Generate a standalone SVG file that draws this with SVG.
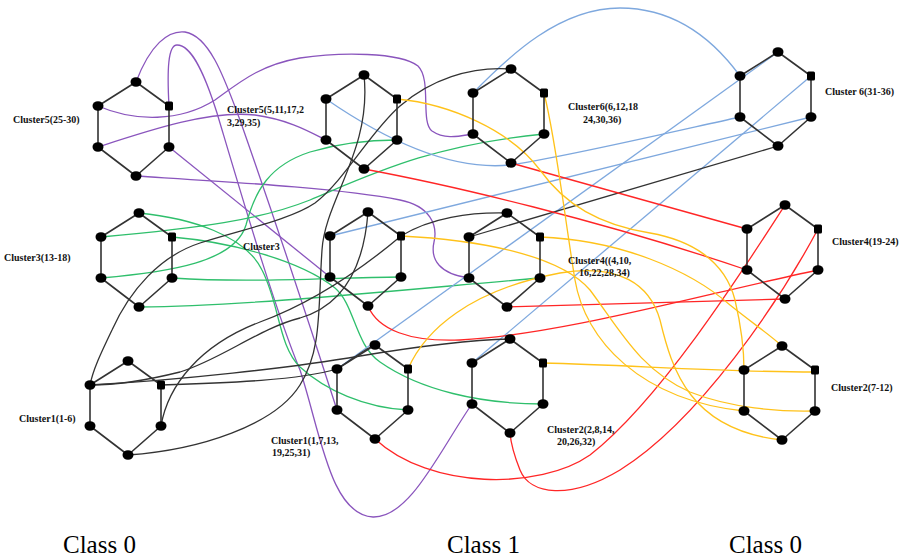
<svg xmlns="http://www.w3.org/2000/svg" xmlns:xlink="http://www.w3.org/1999/xlink" width="908" height="559" viewBox="0 0 908 559">
<style>
.lbl{font-family:"Liberation Serif","Times New Roman",serif;font-size:10px;font-weight:bold;fill:#111}
.cls{font-family:"Liberation Serif","Times New Roman",serif;font-size:25px;fill:#000}
.edge{fill:none;stroke:#333;stroke-width:1.6;stroke-linejoin:round}
.dot{fill:#000}
.c{fill:none;stroke-width:1.3}
.pu{stroke:#8a55bd}
.gr{stroke:#2fbf6c}
.bl{stroke:#7ea8de}
.bk{stroke:#333}
.rd{stroke:#ff2626}
.ye{stroke:#ffc21a}
</style>
<defs>
<g id="hex">
<path class="edge" d="M0,0 L-38,24 L-38,65 L0,94 L33,65 L33,24 Z"/>
<ellipse class="dot" cx="0" cy="0" rx="5.5" ry="4.8"/>
<ellipse class="dot" cx="-38" cy="24" rx="5.5" ry="4.8"/>
<rect class="dot" x="29" y="19.5" width="8" height="9" rx="1.5"/>
<ellipse class="dot" cx="-38" cy="65" rx="5.5" ry="4.8"/>
<ellipse class="dot" cx="33" cy="65" rx="5.5" ry="4.8"/>
<ellipse class="dot" cx="0" cy="94" rx="5.5" ry="4.8"/>
</g>
</defs>
<rect width="908" height="559" fill="#fff"/>

<g id="connectors">
<!-- purple: Cluster5(25-30) -->
<path class="c pu" d="M136,82 C150,45 168,30 185,32 C210,36 225,80 240,120 C268,200 305,310 337,410"/>
<path class="c pu" d="M169,106 C167,70 168,45 177,45 C192,45 205,75 217,113 C240,190 275,310 300,370 C320,430 330,515 373,517 C410,518 440,450 472,404"/>
<path class="c pu" d="M98,106 C135,122 180,122 215,100 C240,82 260,65 300,58 C340,52 400,52 418,66 C432,80 420,122 432,131 C445,140 460,136 473,134"/>
<path class="c pu" d="M98,147 C150,130 210,110 255,115 C290,120 310,132 326,140"/>
<path class="c pu" d="M169,147 L330,277"/>
<path class="c pu" d="M136,176 C230,182 340,188 400,200 C430,206 438,225 434,242 C430,260 440,274 469,278"/>
<!-- green: Cluster3(13-18) -->
<path class="c gr" d="M139,213 C190,218 245,235 262,270 C280,305 278,345 300,367 C325,390 365,408 408,410"/>
<path class="c gr" d="M101,237 C200,228 260,220 310,200 C370,175 430,145 544,134"/>
<path class="c gr" d="M172,237 C230,242 300,260 335,288 C355,305 355,345 380,362 C420,390 480,404 543,404"/>
<path class="c gr" d="M101,278 C170,272 235,262 246,225 C255,190 270,165 310,152 C340,143 370,140 397,140"/>
<path class="c gr" d="M172,278 C250,283 320,278 401,277"/>
<path class="c gr" d="M139,307 C250,306 400,290 540,278"/>
<!-- blue: Cluster 6(31-36) -->
<path class="c bl" d="M740,76 C710,35 670,8 620,8 C560,8 510,55 473,93"/>
<path class="c bl" d="M778,52 L337,369"/>
<path class="c bl" d="M811,76 L472,363"/>
<path class="c bl" d="M740,117 C650,137 560,158 510,165 C460,170 400,150 326,99"/>
<path class="c bl" d="M811,117 L330,236"/>
<!-- black: Cluster1(1-6) -->
<path class="c bk" d="M778,146 L469,237"/>
<path class="c bk" d="M511,69 C470,66 430,80 400,106 C370,132 345,180 315,203 C290,220 240,230 200,243 C160,256 130,290 112,330 C100,355 93,370 90,385"/>
<path class="c bk" d="M364,75 C372,150 325,200 322,250 C318,310 322,350 300,385 C275,425 200,450 128,455"/>
<path class="c bk" d="M368,212 C364,265 345,305 300,318 C260,328 220,360 180,372 C140,382 110,385 90,385"/>
<path class="c bk" d="M161,426 C168,385 200,345 260,322 C320,300 370,262 401,236 C430,218 470,212 507,213"/>
<path class="c bk" d="M161,385 C230,383 300,380 337,369 C352,360 362,350 375,345"/>
<path class="c bk" d="M90,385 C180,380 290,368 360,356 C420,346 470,340 510,339"/>
<!-- red: Cluster4(19-24) -->
<path class="c rd" d="M511,163 L747,229"/>
<path class="c rd" d="M364,169 C450,185 600,220 747,270"/>
<path class="c rd" d="M507,307 C600,304 700,302 785,299"/>
<path class="c rd" d="M368,306 C378,330 410,342 460,340 C560,335 700,295 818,270"/>
<path class="c rd" d="M785,205 C740,275 660,400 590,455 C540,490 430,490 375,439"/>
<path class="c rd" d="M818,229 C780,300 700,420 620,470 C570,500 530,495 520,470 C514,455 511,445 510,433"/>
<!-- yellow: Cluster2(7-12) -->
<path class="c ye" d="M397,99 C450,104 510,130 540,170 C565,205 600,225 650,233 C690,240 725,260 735,300 C742,330 744,350 744,370"/>
<path class="c ye" d="M544,93 C556,140 565,220 575,280 C585,340 640,400 744,411"/>
<path class="c ye" d="M401,236 C480,240 560,255 590,290 C620,330 640,370 690,392 C730,408 780,412 815,411"/>
<path class="c ye" d="M540,237 C620,240 690,270 730,305 C755,325 770,335 782,346"/>
<path class="c ye" d="M408,369 C425,330 470,290 560,273 C620,263 650,285 660,320 C672,370 690,430 782,440"/>
<path class="c ye" d="M543,363 C630,365 720,372 815,372"/>
</g>

<g id="cluster5-25-30"><use xlink:href="#hex" href="#hex" x="136" y="82"/><text class="lbl" x="13" y="123">Cluster5(25-30)</text></g>
<g id="cluster5-mid"><use xlink:href="#hex" href="#hex" x="364" y="75"/><text class="lbl" x="227" y="113">Cluster5(5,11,17,2</text><text class="lbl" x="227" y="126">3,29,35)</text></g>
<g id="cluster6-mid"><use xlink:href="#hex" href="#hex" x="511" y="69"/><text class="lbl" x="568" y="110">Cluster6(6,12,18</text><text class="lbl" x="583" y="123">24,30,36)</text></g>
<g id="cluster6-31-36"><use xlink:href="#hex" href="#hex" x="778" y="52"/><text class="lbl" x="825" y="95">Cluster 6(31-36)</text></g>
<g id="cluster3-13-18"><use xlink:href="#hex" href="#hex" x="139" y="213"/><text class="lbl" x="4" y="261">Cluster3(13-18)</text></g>
<g id="cluster3-mid"><use xlink:href="#hex" href="#hex" x="368" y="212"/><text class="lbl" x="243" y="250">Cluster3</text></g>
<g id="cluster4-mid"><use xlink:href="#hex" href="#hex" x="507" y="213"/><text class="lbl" x="568" y="264">Cluster4((4,10,</text><text class="lbl" x="579" y="276">16,22,28,34)</text></g>
<g id="cluster4-19-24"><use xlink:href="#hex" href="#hex" x="785" y="205"/><text class="lbl" x="832" y="245">Cluster4(19-24)</text></g>
<g id="cluster1-1-6"><use xlink:href="#hex" href="#hex" x="128" y="361"/><text class="lbl" x="19" y="422">Cluster1(1-6)</text></g>
<g id="cluster1-mid"><use xlink:href="#hex" href="#hex" x="375" y="345"/><text class="lbl" x="271" y="444">Cluster1(1,7,13,</text><text class="lbl" x="272" y="456">19,25,31)</text></g>
<g id="cluster2-mid"><use xlink:href="#hex" href="#hex" x="510" y="339"/><text class="lbl" x="547" y="433">Cluster2(2,8,14,</text><text class="lbl" x="557" y="445">20,26,32)</text></g>
<g id="cluster2-7-12"><use xlink:href="#hex" href="#hex" x="782" y="346"/><text class="lbl" x="831" y="391">Cluster2(7-12)</text></g>

<g id="class-labels">
<text class="cls" x="63" y="553">Class 0</text>
<text class="cls" x="447" y="553">Class 1</text>
<text class="cls" x="729" y="553">Class 0</text>
</g>
</svg>
